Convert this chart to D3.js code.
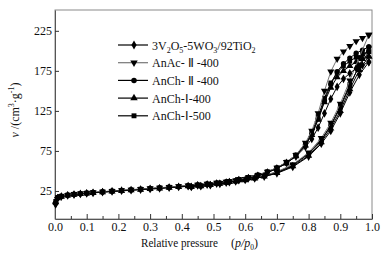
<!DOCTYPE html>
<html lang="en">

<head>
    <meta charset="UTF-8">
    <title>N2 isotherms</title>
    <script src="https://d3js.org/d3.v7.min.js"></script>
    <style>
        * {
            margin: 0;
            padding: 0;
        }

        body {
            background: #fff;
        }

        text {
            font-family: "Liberation Serif", "Times New Roman", serif;
        }
    </style>
</head>

<body>
    <script>
        var width = 387;
        var height = 255;

        // relative pressure of the adsorption and desorption points
        var pAds = [0.002, 0.008, 0.02, 0.04, 0.06, 0.08, 0.10, 0.12, 0.15, 0.18, 0.21, 0.24, 0.27, 0.30, 0.33, 0.36, 0.39, 0.42, 0.45, 0.48, 0.51, 0.54, 0.57, 0.60, 0.63, 0.66, 0.70, 0.75, 0.80, 0.84, 0.87, 0.90, 0.93, 0.96, 0.99];
        var pDes = [0.99, 0.97, 0.95, 0.93, 0.91, 0.89, 0.87, 0.85, 0.83, 0.81, 0.79, 0.76, 0.73, 0.70, 0.67, 0.64, 0.61, 0.58, 0.55, 0.52, 0.49, 0.46, 0.43];

        var names = ['3V2O5-5WO3/92TiO2', 'AnAc- Ⅱ -400', 'AnCh- Ⅱ -400', 'AnCh-Ⅰ-400', 'AnCh-Ⅰ-500'];
        var symbols = ['diamond', 'triangleDown', 'circle', 'triangle', 'square'];
        var lineColors = ['#000', '#777', '#000', '#000', '#000'];

        // adsorbed volume, cm3/g
        var ads3V = [9, 16, 18, 19.5, 20.5, 21.3, 22, 22.7, 23.6, 24.5, 25.3, 26, 26.8, 27.5, 28.3, 29.2, 30, 31, 32, 33, 34.2, 35.5, 37, 38.7, 40.7, 43, 47, 55, 68, 84, 100, 122, 148, 170, 186];
        var des3V = [186, 182, 178, 172, 165, 155, 140, 122, 104, 90, 80, 68, 60, 53, 48, 44, 41, 38.5, 36, 34, 32.3, 31, 30];
        var adsAnAc2 = [8, 15, 18.5, 20, 21, 21.8, 22.5, 23.2, 24.1, 25, 25.8, 26.6, 27.4, 28.2, 29, 29.9, 30.8, 31.8, 32.8, 33.9, 35.1, 36.4, 38, 39.8, 41.9, 44.5, 49, 58, 73, 91, 110, 134, 163, 192, 220];
        var desAnAc2 = [220, 216, 212, 206, 199, 190, 174, 150, 122, 100, 85, 70, 61, 54, 49, 45, 42, 39.5, 37, 35, 33, 31.6, 30.5];
        var adsAnCh2 = [10, 16.5, 18.2, 19.7, 20.7, 21.5, 22.2, 22.9, 23.8, 24.7, 25.5, 26.3, 27.1, 27.9, 28.7, 29.6, 30.5, 31.4, 32.4, 33.5, 34.7, 36, 37.6, 39.3, 41.3, 43.8, 48, 57, 71, 88, 106, 129, 156, 182, 205];
        var desAnCh2 = [205, 201, 197, 191, 184, 174, 158, 138, 115, 96, 83, 69, 60, 53.5, 48.5, 44.5, 41.5, 39, 36.5, 34.5, 32.7, 31.3, 30.2];
        var adsAnCh1 = [11, 16, 18, 19.4, 20.4, 21.2, 21.9, 22.6, 23.5, 24.3, 25.1, 25.9, 26.7, 27.4, 28.2, 29.1, 30, 30.9, 31.9, 32.9, 34.1, 35.4, 36.9, 38.6, 40.6, 43, 47.5, 56, 69, 86, 103, 125, 152, 176, 193];
        var desAnCh1 = [193, 190, 186, 181, 175, 167, 154, 136, 114, 95, 82, 68.5, 59.5, 53, 48, 44, 41, 38.5, 36.2, 34.2, 32.5, 31.1, 30];
        var adsAnCh1b = [12, 17, 18.6, 20, 21, 21.8, 22.5, 23.2, 24, 24.9, 25.7, 26.5, 27.3, 28.1, 28.9, 29.8, 30.7, 31.6, 32.6, 33.7, 34.9, 36.3, 37.9, 39.6, 41.6, 44.2, 48.5, 57.5, 72, 89, 107, 131, 158, 181, 199];
        var desAnCh1b = [199, 196, 192, 187, 181, 173, 160, 141, 118, 98, 84, 70, 61, 54, 49, 45, 42, 39.5, 37, 34.9, 33, 31.6, 30.4];

        var adsList = [ads3V, adsAnAc2, adsAnCh2, adsAnCh1, adsAnCh1b];
        var desList = [des3V, desAnAc2, desAnCh2, desAnCh1, desAnCh1b];

        var xTicks = [0, 0.1, 0.2, 0.3, 0.4, 0.5, 0.6, 0.7, 0.8, 0.9, 1.0];
        var xMinor = [0.05, 0.15, 0.25, 0.35, 0.45, 0.55, 0.65, 0.75, 0.85, 0.95];
        var yTicks = [25, 75, 125, 175, 225];

        // plot box (don't call it "top", that is window.top)
        var mLeft = 55, mRight = 372, mTop = 10, mBottom = 219;

        var svg = d3.select('body')
            .append('svg')
            .attr('width', width)
            .attr('height', height);

        var xScale = d3.scaleLinear().domain([0, 1]).range([mLeft, mRight]);
        var yScale = d3.scaleLinear().domain([-10, 251]).range([mBottom, mTop]);

        // frame
        svg.append('rect')
            .attr('x', mLeft)
            .attr('y', mTop)
            .attr('width', mRight - mLeft)
            .attr('height', mBottom - mTop)
            .attr('fill', 'none')
            .attr('stroke', '#8a8a8a')
            .attr('stroke-width', 1);

        // axes, ticks pointing inwards
        var xAxis = d3.axisBottom(xScale)
            .tickValues(xTicks)
            .tickFormat(d3.format('.1f'))
            .tickSizeInner(-5)
            .tickSizeOuter(0)
            .tickPadding(3);
        svg.append('g')
            .attr('transform', 'translate(0,' + mBottom + ')')
            .call(xAxis);

        svg.append('g')
            .attr('transform', 'translate(0,' + mBottom + ')')
            .call(d3.axisBottom(xScale).tickValues(xMinor).tickFormat('').tickSizeInner(-3).tickSizeOuter(0))
            .select('.domain').remove();

        var yAxis = d3.axisLeft(yScale)
            .tickValues(yTicks)
            .tickSizeInner(-4)
            .tickSizeOuter(0)
            .tickPadding(3);
        svg.append('g')
            .attr('transform', 'translate(' + mLeft + ',0)')
            .call(yAxis);

        svg.selectAll('.domain').attr('stroke', '#555');
        svg.selectAll('.tick line').attr('stroke', '#333');
        svg.selectAll('.tick text')
            .style('font-family', '"Liberation Serif", serif')
            .style('font-size', '12px')
            .attr('fill', '#111');

        // curves
        var line = d3.line()
            .x(function (d) { return xScale(d[0]); })
            .y(function (d) { return yScale(d[1]); });

        var symbolTypes = {
            diamond: d3.symbolDiamond,
            triangleDown: d3.symbolTriangle,
            circle: d3.symbolCircle,
            triangle: d3.symbolTriangle,
            square: d3.symbolSquare
        };

        function marker(sel, i, size) {
            sel.attr('d', d3.symbol().type(symbolTypes[symbols[i]]).size(size))
                .attr('fill', '#000');
        }

        var plot = svg.append('g');

        for (var i = names.length - 1; i >= 0; i--) {
            var adsPts = pAds.map(function (p, k) { return [p, adsList[i][k]]; });
            var desPts = pDes.map(function (p, k) { return [p, desList[i][k]]; });

            [adsPts, desPts].forEach(function (pts) {
                plot.append('path')
                    .datum(pts)
                    .attr('d', line)
                    .attr('fill', 'none')
                    .attr('stroke', lineColors[i])
                    .attr('stroke-width', 1);

                plot.selectAll(null)
                    .data(pts)
                    .enter()
                    .append('path')
                    .call(marker, i, 22)
                    .attr('transform', function (d) {
                        var rot = symbols[i] == 'triangleDown' ? ' rotate(180)' : '';
                        return 'translate(' + xScale(d[0]) + ',' + yScale(d[1]) + ')' + rot;
                    });
            });
        }

        // legend
        var legend = svg.append('g');
        for (var j = 0; j < names.length; j++) {
            var ly = 45 + j * 17.7;
            legend.append('line')
                .attr('x1', 118)
                .attr('x2', 148)
                .attr('y1', ly)
                .attr('y2', ly)
                .attr('stroke', lineColors[j])
                .attr('stroke-width', 1.2);
            legend.append('path')
                .call(marker, j, 24)
                .attr('transform', 'translate(134,' + ly + ')' + (symbols[j] == 'triangleDown' ? ' rotate(180)' : ''));
        }

        var lt = legend.append('text')
            .attr('x', 152)
            .attr('y', 45 + 4.5)
            .style('font-size', '12px')
            .attr('fill', '#111');
        lt.append('tspan').text('3V');
        lt.append('tspan').text('2').attr('dy', 3).style('font-size', '8px');
        lt.append('tspan').text('O').attr('dy', -3);
        lt.append('tspan').text('5').attr('dy', 3).style('font-size', '8px');
        lt.append('tspan').text('-5WO').attr('dy', -3);
        lt.append('tspan').text('3').attr('dy', 3).style('font-size', '8px');
        lt.append('tspan').text('/92TiO').attr('dy', -3);
        lt.append('tspan').text('2').attr('dy', 3).style('font-size', '8px');

        for (var k = 1; k < names.length; k++) {
            legend.append('text')
                .attr('x', 152)
                .attr('y', 45 + k * 17.7 + 4.5)
                .style('font-size', '12px')
                .attr('fill', '#111')
                .text(names[k]);
        }

        // axis titles
        svg.append('text')
            .attr('x', 141)
            .attr('y', 247)
            .attr('textLength', 77)
            .attr('lengthAdjust', 'spacingAndGlyphs')
            .style('font-size', '12px')
            .attr('fill', '#111')
            .text('Relative pressure');
        var xl = svg.append('text')
            .attr('x', 231)
            .attr('y', 247)
            .style('font-size', '12px')
            .attr('fill', '#111');
        xl.append('tspan').text('(');
        xl.append('tspan').text('p/p').style('font-style', 'italic');
        xl.append('tspan').text('0').attr('dy', 3).style('font-size', '7.5px');
        xl.append('tspan').text(')').attr('dy', -3);

        var yl = svg.append('text')
            .attr('transform', 'translate(19,110) rotate(-90)')
            .attr('text-anchor', 'middle')
            .style('font-size', '12px')
            .attr('fill', '#111');
        yl.append('tspan').text('v').style('font-style', 'italic');
        yl.append('tspan').text(' /(cm');
        yl.append('tspan').text('3').attr('dy', -5).style('font-size', '8px');
        yl.append('tspan').text('·g').attr('dy', 5);
        yl.append('tspan').text('-1').attr('dy', -5).style('font-size', '8px');
        yl.append('tspan').text(')').attr('dy', 5);
    </script>
</body>

</html>
